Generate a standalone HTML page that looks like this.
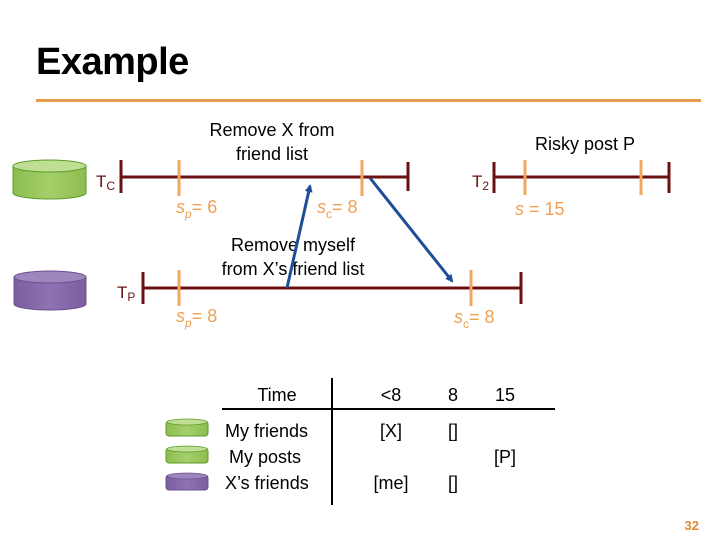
<!DOCTYPE html>
<html><head><meta charset="utf-8"><style>
body{margin:0;background:#fff;}
svg{display:block;font-family:"Liberation Sans",Arial,sans-serif;}
</style></head><body>
<svg width="720" height="540" viewBox="0 0 720 540" xmlns="http://www.w3.org/2000/svg">
<defs>
<marker id="ah" markerWidth="8" markerHeight="8" refX="6" refY="4" orient="auto" markerUnits="userSpaceOnUse"><path d="M0,0 L8,4 L0,8 z" fill="#1f4e99"/></marker>
<linearGradient id="g" x1="0" x2="1"><stop offset="0" stop-color="#8cbd50"/><stop offset="0.5" stop-color="#a4cf6a"/><stop offset="1" stop-color="#8cbd50"/></linearGradient>
<linearGradient id="p" x1="0" x2="1"><stop offset="0" stop-color="#7a5ea0"/><stop offset="0.5" stop-color="#8e72b2"/><stop offset="1" stop-color="#7a5ea0"/></linearGradient>
</defs>
<text x="36" y="74" font-size="38" font-weight="bold" fill="#000" letter-spacing="-0.5">Example</text>
<rect x="36" y="99" width="665" height="3" fill="#e89b4a"/>

<g>
<path d="M13,166 L13,193 A36.5,6 0 0 0 86,193 L86,166" fill="url(#g)" stroke="#5e9a2a" stroke-width="1"/>
<ellipse cx="49.5" cy="166" rx="36.5" ry="6" fill="#bedf94" stroke="#5e9a2a" stroke-width="1"/>
</g>
<g>
<path d="M14,277 L14,304 A36,6 0 0 0 86,304 L86,277" fill="url(#p)" stroke="#6b5090" stroke-width="1"/>
<ellipse cx="50" cy="277" rx="36" ry="6" fill="#9c86bc" stroke="#6b5090" stroke-width="1"/>
</g>

<g stroke="#6b1010" stroke-width="3" fill="none">
<line x1="121" y1="177" x2="408" y2="177"/>
<line x1="121" y1="160" x2="121" y2="193"/>
<line x1="408" y1="162" x2="408" y2="191"/>
<line x1="494" y1="177" x2="669" y2="177"/>
<line x1="494" y1="162" x2="494" y2="193"/>
<line x1="669" y1="162" x2="669" y2="193"/>
<line x1="143" y1="288" x2="521" y2="288"/>
<line x1="143" y1="272" x2="143" y2="304"/>
<line x1="521" y1="272" x2="521" y2="304"/>
</g>
<g stroke="#f0a860" stroke-width="3">
<line x1="179" y1="160" x2="179" y2="196"/>
<line x1="362" y1="160" x2="362" y2="196"/>
<line x1="525" y1="160" x2="525" y2="195"/>
<line x1="641" y1="160" x2="641" y2="195"/>
<line x1="179" y1="270" x2="179" y2="306"/>
<line x1="471" y1="270" x2="471" y2="306"/>
</g>

<g fill="#6b1010" font-size="17">
<text x="96" y="187">T<tspan font-size="12" dy="3">C</tspan></text>
<text x="472" y="187">T<tspan font-size="12" dy="3">2</tspan></text>
<text x="117" y="298">T<tspan font-size="12" dy="3">P</tspan></text>
</g>

<g fill="#f0a050" font-size="18">
<text x="176" y="213"><tspan font-style="italic">s</tspan><tspan font-size="12" font-style="italic" dy="5">p</tspan><tspan dy="-5">= 6</tspan></text>
<text x="317" y="213"><tspan font-style="italic">s</tspan><tspan font-size="12" dy="5">c</tspan><tspan dy="-5">= 8</tspan></text>
<text x="515" y="215"><tspan font-style="italic">s</tspan> = 15</text>
<text x="176" y="322"><tspan font-style="italic">s</tspan><tspan font-size="12" font-style="italic" dy="5">p</tspan><tspan dy="-5">= 8</tspan></text>
<text x="454" y="323"><tspan font-style="italic">s</tspan><tspan font-size="12" dy="5">c</tspan><tspan dy="-5">= 8</tspan></text>
</g>

<g fill="#000" font-size="18" text-anchor="middle">
<text x="272" y="136">Remove X from</text>
<text x="272" y="160">friend list</text>
<text x="585" y="150">Risky post P</text>
<text x="293" y="251">Remove myself</text>
<text x="293" y="275">from X’s friend list</text>
</g>

<g stroke="#1f4e99" stroke-width="3">
<line x1="287" y1="288" x2="310" y2="186" marker-end="url(#ah)"/>
<line x1="370" y1="178" x2="452" y2="281" marker-end="url(#ah)"/>
</g>

<line x1="332" y1="378" x2="332" y2="505" stroke="#000" stroke-width="2"/>
<line x1="222" y1="409" x2="555" y2="409" stroke="#000" stroke-width="2"/>
<g font-size="18" fill="#000">
<text x="277" y="401" text-anchor="middle">Time</text>
<text x="391" y="401" text-anchor="middle">&lt;8</text>
<text x="453" y="401" text-anchor="middle">8</text>
<text x="505" y="401" text-anchor="middle">15</text>
<text x="225" y="437">My friends</text>
<text x="229" y="463">My posts</text>
<text x="225" y="489">X’s friends</text>
<text x="391" y="437" text-anchor="middle">[X]</text>
<text x="453" y="437" text-anchor="middle">[]</text>
<text x="505" y="463" text-anchor="middle">[P]</text>
<text x="391" y="489" text-anchor="middle">[me]</text>
<text x="453" y="489" text-anchor="middle">[]</text>
</g>
<g>
<rect x="166" y="421" width="42" height="15" rx="3" fill="url(#g)" stroke="#5e9a2a"/>
<ellipse cx="187" cy="422" rx="20" ry="3" fill="#bedf94" stroke="#5e9a2a" stroke-width="0.8"/>
<rect x="166" y="448" width="42" height="15" rx="3" fill="url(#g)" stroke="#5e9a2a"/>
<ellipse cx="187" cy="449" rx="20" ry="3" fill="#bedf94" stroke="#5e9a2a" stroke-width="0.8"/>
<rect x="166" y="475" width="42" height="15" rx="3" fill="url(#p)" stroke="#6b5090"/>
<ellipse cx="187" cy="476" rx="20" ry="3" fill="#9c86bc" stroke="#6b5090" stroke-width="0.8"/>
</g>

<text x="699" y="530" font-size="13" font-weight="bold" fill="#e08a30" text-anchor="end">32</text>
</svg>
</body></html>
